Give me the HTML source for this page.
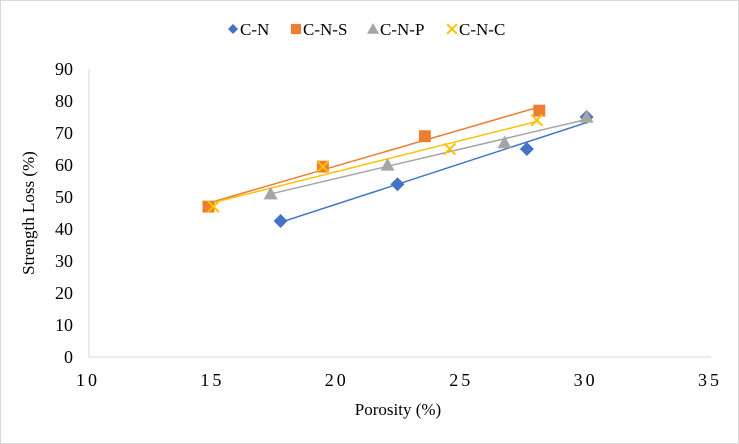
<!DOCTYPE html>
<html><head><meta charset="utf-8"><style>
body{margin:0;background:#fff}
svg{display:block;font-family:"Liberation Serif",serif}
</style></head><body>
<svg id="chart" width="739" height="444" viewBox="0 0 739 444">
<rect x="0.5" y="0.5" width="738" height="443" fill="#fff" stroke="#d9d9d9"/>
<g id="legend"></g>
<g id="axes"></g>
<g id="marks"></g>
<text x="398" y="415" font-size="17" text-anchor="middle">Porosity (%)</text>
<text transform="translate(34,213) rotate(-90)" font-size="17" text-anchor="middle">Strength Loss (%)</text>
</svg>
<script>
const seriesNames=["C-N","C-N-S","C-N-P","C-N-C"];
const cnX=[17.7,22.4,27.6,30];
const cnY=[42.5,54,65,75];
const cnsX=[14.8,19.4,23.5,28.1];
const cnsY=[47,59.5,69,77];
const cnpX=[17.3,22,26.7,30];
const cnpY=[51,60,67,75];
const cncX=[15,19.4,24.5,28];
const cncY=[47,59.5,65,74];
const xTicks=[10,15,20,25,30,35];
const yTicks=[0,10,20,30,40,50,60,70,80,90];
const NS="http://www.w3.org/2000/svg";
const X0=89,X1=711,Y0=357,Y1=69;
const sx=v=>X0+(v-10)/25*(X1-X0);
const sy=v=>Y0-v/90*(Y0-Y1);
function mk(tag,attrs,parent){const e=document.createElementNS(NS,tag);for(const k in attrs)e.setAttribute(k,attrs[k]);parent.appendChild(e);return e;}
const axes=document.getElementById('axes'),marks=document.getElementById('marks'),leg=document.getElementById('legend');
let a=mk('line',{x1:X0,x2:X0,y1:Y1,y2:Y0,stroke:'#d9d9d9'},axes);


a=mk('line',{x1:X0,x2:X1,y1:Y0,y2:Y0,stroke:'#d9d9d9'},axes);


yTicks.forEach(v=>{const t=mk('text',{x:73,y:sy(v)+6,'font-size':18,'text-anchor':'end'},axes);t.textContent=v;

});
xTicks.forEach(v=>{const t=mk('text',{x:sx(v)-1,y:386,'font-size':18,'text-anchor':'middle','letter-spacing':'3'},axes);t.textContent=String(v);

});
const cols=["#4472c4","#ed7d31","#a5a5a5","#ffc000"];
const data=[[cnX,cnY],[cnsX,cnsY],[cnpX,cnpY],[cncX,cncY]];
function marker(k,cx,cy,g,s){
 if(k==0)return mk('polygon',{points:`${cx},${cy-s} ${cx+s},${cy} ${cx},${cy+s} ${cx-s},${cy}`,fill:cols[0]},g);
 if(k==1)return mk('rect',{x:cx-s*0.85,y:cy-s*0.85,width:s*1.7,height:s*1.7,fill:cols[1]},g);
 if(k==2)return mk('polygon',{points:`${cx},${cy-s} ${cx+s},${cy+s*0.8} ${cx-s},${cy+s*0.8}`,fill:cols[2]},g);
 const p=mk('path',{d:`M${cx-s*0.8},${cy-s*0.8}L${cx+s*0.8},${cy+s*0.8}M${cx+s*0.8},${cy-s*0.8}L${cx-s*0.8},${cy+s*0.8}`,stroke:cols[3],'stroke-width':2,fill:'none'},g);return p;
}
data.forEach(([xs,ys],k)=>{
 const n=xs.length,mx=xs.reduce((a,b)=>a+b)/n,my=ys.reduce((a,b)=>a+b)/n;
 let num=0,den=0;xs.forEach((x,i)=>{num+=(x-mx)*(ys[i]-my);den+=(x-mx)**2;});
 const b=num/den,c=my-b*mx,xa=Math.min(...xs),xb=Math.max(...xs);
 const l=mk('line',{x1:sx(xa),y1:sy(c+b*xa),x2:sx(xb),y2:sy(c+b*xb),stroke:cols[k],'stroke-width':1.5},marks);
 
 
});
data.forEach(([xs,ys],k)=>{
 xs.forEach((x,i)=>{const m=marker(k,sx(x),sy(ys[i]),marks,7);
 
 });
});
const lx=[233,296,373,452];
seriesNames.forEach((n,k)=>{
 const m=marker(k,lx[k],29,leg,k==0?5:6);
 
 
 const t=mk('text',{x:lx[k]+7,y:35,'font-size':17},leg);t.textContent=n;
 
 
});
</script>
</body></html>
